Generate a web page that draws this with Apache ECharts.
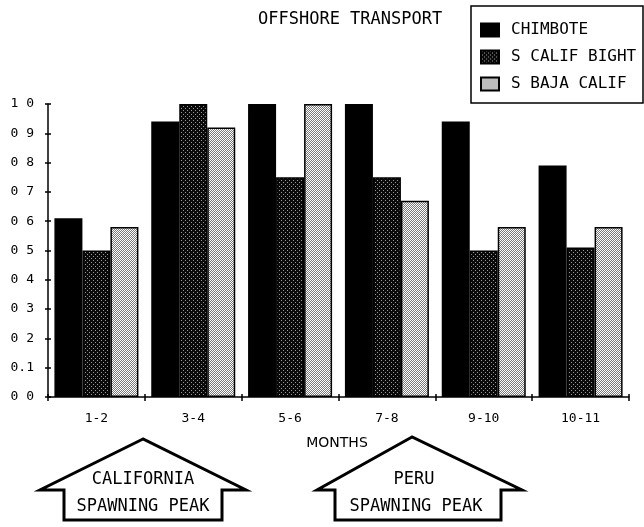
<!DOCTYPE html>
<html>
<head>
<meta charset="utf-8">
<script src="https://cdn.jsdelivr.net/npm/echarts@6/dist/echarts.min.js"></script>
<style>
  html, body { margin: 0; padding: 0; background: #fff; }
  #chart { width: 644px; height: 527px; }
</style>
</head>
<body>
<div id="chart"></div>
<script>
// ---- data ----
var months = ['1-2', '3-4', '5-6', '7-8', '9-10', '10-11'];
var seriesNames = ['CHIMBOTE', 'S CALIF BIGHT', 'S BAJA CALIF'];
var chimbote = [0.61, 0.94, 1.00, 1.00, 0.94, 0.79];
var sCalifBight = [0.50, 1.00, 0.75, 0.75, 0.50, 0.51];
var sBajaCalif = [0.58, 0.92, 1.00, 0.67, 0.58, 0.58];
var yTickLabels = ['0 0', '0.1', '0 2', '0 3', '0 4', '0 5', '0 6', '0 7', '0 8', '0 9', '1 0'];

// ---- patterns ----
function makePattern(size, fn) {
  var c = document.createElement('canvas');
  c.width = size; c.height = size;
  var ctx = c.getContext('2d');
  for (var y = 0; y < size; y++) {
    for (var x = 0; x < size; x++) {
      ctx.fillStyle = fn(x, y);
      ctx.fillRect(x, y, 1, 1);
    }
  }
  return c;
}
var darkPat = makePattern(4, function (x, y) {
  return ((x === 1 && y === 0) || (x === 3 && y === 2)) ? '#9a9a9a' : '#0a0a0a';
});
var lightPat = makePattern(2, function (x, y) {
  return ((x + y) % 2 === 0) ? '#ffffff' : '#7a7a7a';
});
var fills = ['#000000', { image: darkPat, repeat: 'repeat' }, { image: lightPat, repeat: 'repeat' }];
var values = [chimbote, sCalifBight, sBajaCalif];

var MONO = '"DejaVu Sans Mono", monospace';
var SANS = '"DejaVu Sans", sans-serif';

var chart = echarts.init(document.getElementById('chart'), null, { renderer: 'canvas' });

var series = seriesNames.map(function (name, i) {
  return {
    name: name,
    type: 'bar',
    data: values[i],
    barWidth: 28,
    barGap: '0%',
    xAxisIndex: 0,
    yAxisIndex: 0,
    itemStyle: { color: fills[i], borderColor: '#000', borderWidth: 1.5 },
    emphasis: { disabled: true },
    animation: false
  };
});

var option = {
  animation: false,
  backgroundColor: '#fff',
  title: {
    text: 'OFFSHORE TRANSPORT',
    left: 258, top: 11, padding: 0,
    textStyle: { fontFamily: MONO, fontSize: 17, fontWeight: 'normal', color: '#000' }
  },
  legend: {
    orient: 'vertical',
    left: 480, top: 22, padding: 0,
    itemWidth: 18, itemHeight: 13, itemGap: 11,
    icon: 'rect',
    textStyle: { fontFamily: MONO, fontSize: 16, color: '#000', padding: [0, 0, 0, 7] },
    data: seriesNames
  },
  grid: { left: 48, right: 15, top: 104, bottom: 130, containLabel: false },
  xAxis: [{
    type: 'category',
    data: months,
    axisLine: { lineStyle: { color: '#000', width: 1.5 } },
    axisTick: { show: true, length: 4, lineStyle: { color: '#000', width: 1.5 } },
    axisLabel: { color: '#000', fontFamily: MONO, fontSize: 13, margin: 15 },
    splitLine: { show: false }
  }, {
    type: 'category',
    data: months,
    position: 'bottom',
    axisLine: { show: false },
    axisTick: { show: true, inside: true, length: 3, lineStyle: { color: '#000', width: 1.5 } },
    axisLabel: { show: false },
    splitLine: { show: false }
  }],
  yAxis: [{
    type: 'value',
    min: 0, max: 1, interval: 0.1,
    axisLine: { show: true, lineStyle: { color: '#000', width: 1.5 } },
    axisTick: { show: true, length: 3, lineStyle: { color: '#000', width: 1.5 } },
    axisLabel: {
      color: '#000', fontFamily: MONO, fontSize: 13, margin: 14,
      formatter: function (v) { return yTickLabels[Math.round(v * 10)]; }
    },
    splitLine: { show: false }
  }, {
    type: 'value',
    min: 0, max: 1, interval: 0.1,
    position: 'left',
    axisLine: { show: false },
    axisTick: { show: true, inside: true, length: 3, lineStyle: { color: '#000', width: 1.5 } },
    axisLabel: { show: false },
    splitLine: { show: false }
  }],
  graphic: [
    { type: 'rect', shape: { x: 471, y: 6, width: 172, height: 97 },
      style: { fill: 'none', stroke: '#000', lineWidth: 1.5 }, silent: true },
    { type: 'polygon',
      shape: { points: [[143, 439], [40, 490], [64, 490], [64, 520], [222, 520], [222, 490], [246, 490]] },
      style: { fill: '#fff', stroke: '#000', lineWidth: 3, lineJoin: 'miter' }, silent: true },
    { type: 'polygon',
      shape: { points: [[412, 437], [317, 490], [335, 490], [335, 520], [501, 520], [501, 490], [522, 490]] },
      style: { fill: '#fff', stroke: '#000', lineWidth: 3, lineJoin: 'miter' }, silent: true },
    { type: 'text', x: 143, y: 480,
      style: { text: 'CALIFORNIA', font: '17px ' + MONO, fill: '#000', textAlign: 'center', textVerticalAlign: 'middle' } },
    { type: 'text', x: 143, y: 507,
      style: { text: 'SPAWNING PEAK', font: '17px ' + MONO, fill: '#000', textAlign: 'center', textVerticalAlign: 'middle' } },
    { type: 'text', x: 414, y: 480,
      style: { text: 'PERU', font: '17px ' + MONO, fill: '#000', textAlign: 'center', textVerticalAlign: 'middle' } },
    { type: 'text', x: 416, y: 507,
      style: { text: 'SPAWNING PEAK', font: '17px ' + MONO, fill: '#000', textAlign: 'center', textVerticalAlign: 'middle' } },
    { type: 'text', x: 337, y: 443,
      style: { text: 'MONTHS', font: '14px ' + SANS, fill: '#000', textAlign: 'center', textVerticalAlign: 'middle' } }
  ],
  series: series
};

chart.setOption(option);
</script>
</body>
</html>
